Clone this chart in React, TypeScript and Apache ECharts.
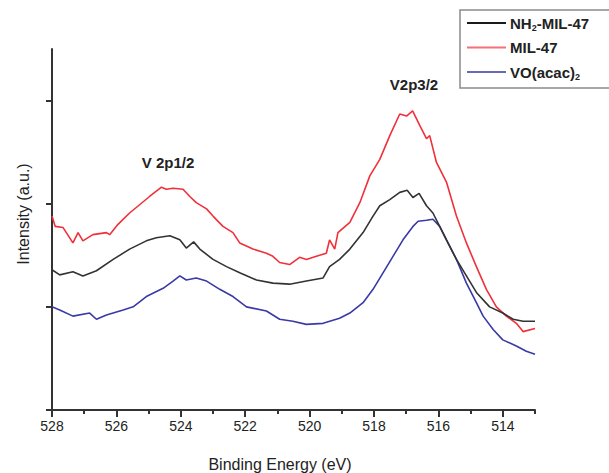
import React, { useEffect, useRef } from "react";
import * as echarts from "echarts";

const majorTicks = [528, 526, 524, 522, 520, 518, 516, 514];
const minorTicks = [527, 525, 523, 521, 519, 517, 515, 513];
const yTicks = [0, 1, 2, 3];

const seriesNames = ["NH2-MIL-47", "MIL-47", "VO(acac)2"];

const blackX = [528, 527.76, 527.35, 527.04, 526.62, 526.1, 525.59, 525.07, 524.76, 524.34, 524.03, 523.83, 523.6, 523.41, 523.0, 522.58, 522.17, 521.65, 521.14, 520.62, 520.1, 519.58, 519.38, 519.07, 518.75, 518.34, 518.03, 517.82, 517.51, 517.2, 516.97, 516.79, 516.6, 516.37, 516.17, 515.96, 515.75, 515.44, 515.13, 514.82, 514.41, 514.0, 513.68, 513.37, 513.0];
const blackY = [1.36, 1.31, 1.34, 1.30, 1.35, 1.46, 1.56, 1.64, 1.67, 1.69, 1.65, 1.57, 1.63, 1.56, 1.46, 1.39, 1.33, 1.26, 1.23, 1.22, 1.25, 1.28, 1.39, 1.46, 1.56, 1.72, 1.88, 1.98, 2.04, 2.11, 2.13, 2.06, 2.10, 1.98, 1.91, 1.78, 1.65, 1.46, 1.30, 1.14, 1.00, 0.94, 0.88, 0.86, 0.86];

const redX = [528, 527.9, 527.66, 527.35, 527.19, 527.04, 526.73, 526.31, 526.21, 525.95, 525.59, 525.28, 524.97, 524.81, 524.6, 524.45, 524.24, 523.93, 523.72, 523.52, 523.2, 523.0, 522.69, 522.38, 522.17, 521.76, 521.34, 521.14, 520.93, 520.62, 520.31, 520.1, 519.79, 519.48, 519.38, 519.22, 519.12, 518.75, 518.44, 518.13, 517.82, 517.51, 517.2, 516.99, 516.8, 516.58, 516.37, 516.27, 516.06, 515.75, 515.44, 515.13, 514.82, 514.51, 514.2, 513.89, 513.58, 513.37, 513.0];
const redY = [1.88, 1.78, 1.77, 1.62, 1.72, 1.64, 1.70, 1.72, 1.70, 1.80, 1.91, 1.99, 2.07, 2.11, 2.16, 2.14, 2.15, 2.14, 2.07, 2.01, 1.95, 1.88, 1.78, 1.72, 1.62, 1.56, 1.52, 1.49, 1.43, 1.41, 1.48, 1.46, 1.49, 1.52, 1.65, 1.56, 1.72, 1.82, 2.01, 2.27, 2.43, 2.66, 2.87, 2.85, 2.90, 2.76, 2.63, 2.66, 2.40, 2.21, 1.88, 1.62, 1.39, 1.17, 1.00, 0.91, 0.84, 0.76, 0.79];

const blueX = [528, 527.76, 527.35, 526.83, 526.62, 526.31, 525.79, 525.48, 525.07, 524.55, 524.24, 524.03, 523.83, 523.52, 523.2, 522.79, 522.38, 521.96, 521.34, 520.93, 520.52, 520.1, 519.58, 519.07, 518.75, 518.34, 518.03, 517.72, 517.41, 517.1, 516.79, 516.63, 516.37, 516.17, 515.96, 515.75, 515.44, 515.13, 514.82, 514.61, 514.3, 514.0, 513.58, 513.27, 513.0];
const blueY = [1.00, 0.97, 0.91, 0.94, 0.88, 0.92, 0.97, 1.00, 1.10, 1.18, 1.25, 1.30, 1.26, 1.28, 1.25, 1.17, 1.10, 1.00, 0.96, 0.88, 0.86, 0.83, 0.84, 0.89, 0.94, 1.04, 1.17, 1.33, 1.49, 1.65, 1.78, 1.83, 1.84, 1.85, 1.78, 1.65, 1.46, 1.23, 1.04, 0.91, 0.78, 0.68, 0.62, 0.57, 0.54];

const lineColors = ["#333333", "#f0303a", "#3a3aa6"];
const legendColors = ["#1a1a1a", "#f4707a", "#6a6ab4"];

const pairs = (xs: number[], ys: number[]) => xs.map((x, i) => [x, ys[i]]);

const FONT = "Liberation Sans, Arial, sans-serif";

export default function App() {
  const ref = useRef<HTMLDivElement>(null);
  useEffect(() => {
    const chart = echarts.init(ref.current!, null, { renderer: "svg" });
    const xBase = {
      type: "value" as const,
      min: 513,
      max: 528,
      inverse: true,
      splitLine: { show: false },
    };
    const subRich = { s: { fontSize: 9, fontWeight: "bold", fontFamily: FONT, fill: "#222", padding: [10, 0, 0, 0] } };
    chart.setOption({
      animation: false,
      backgroundColor: "#ffffff",
      grid: { left: 52, right: 74, top: 49, bottom: 63 },
      xAxis: [
        {
          ...xBase,
          axisLine: { show: true, lineStyle: { color: "#333", width: 2 } },
          axisTick: { show: true, customValues: majorTicks, length: 7, lineStyle: { color: "#333", width: 2 } },
          axisLabel: {
            show: true,
            customValues: majorTicks,
            color: "#222",
            fontFamily: FONT,
            fontSize: 14,
            margin: 9,
          },
        },
        {
          ...xBase,
          gridIndex: 0,
          position: "bottom",
          axisLine: { show: false },
          axisTick: { show: true, customValues: minorTicks, length: 4, lineStyle: { color: "#333", width: 2 } },
          axisLabel: { show: false },
        },
      ],
      yAxis: {
        type: "value",
        min: 0,
        max: 3.5,
        splitLine: { show: false },
        axisLine: { show: true, lineStyle: { color: "#333", width: 2 } },
        axisTick: { show: true, customValues: yTicks, length: 6, lineStyle: { color: "#333", width: 2 } },
        axisLabel: { show: false },
      },
      series: [
        { name: seriesNames[0], type: "line", data: pairs(blackX, blackY), showSymbol: false, lineStyle: { color: lineColors[0], width: 1.6 }, z: 3 },
        { name: seriesNames[1], type: "line", data: pairs(redX, redY), showSymbol: false, lineStyle: { color: lineColors[1], width: 1.6 }, z: 2 },
        { name: seriesNames[2], type: "line", data: pairs(blueX, blueY), showSymbol: false, lineStyle: { color: lineColors[2], width: 1.6 }, z: 1 },
      ],
      graphic: [
        {
          type: "text",
          x: 280,
          y: 464,
          style: { text: "Binding Energy (eV)", fill: "#222", font: `16px ${FONT}`, align: "center", verticalAlign: "middle" },
        },
        {
          type: "text",
          x: 23,
          y: 214,
          rotation: Math.PI / 2,
          style: { text: "Intensity (a.u.)", fill: "#222", font: `16px ${FONT}`, align: "center", verticalAlign: "middle" },
        },
        {
          type: "text",
          x: 168,
          y: 162,
          style: { text: "V 2p1/2", fill: "#222", font: `bold 15px ${FONT}`, align: "center", verticalAlign: "middle" },
        },
        {
          type: "text",
          x: 414,
          y: 84,
          style: { text: "V2p3/2", fill: "#222", font: `bold 15px ${FONT}`, align: "center", verticalAlign: "middle" },
        },
        {
          type: "rect",
          shape: { x: 460, y: 10, width: 170, height: 78 },
          style: { fill: "#fff", stroke: "#8a8a8a", lineWidth: 1.5 },
          z: 10,
        },
        ...seriesNames.map((_, i) => ({
          type: "line",
          shape: { x1: 467, y1: 23 + i * 24.5, x2: 506, y2: 23 + i * 24.5 },
          style: { stroke: legendColors[i], lineWidth: 2 },
          z: 11,
        })),
        {
          type: "text",
          x: 510,
          y: 23,
          z: 11,
          style: { text: "NH{s|2}-MIL-47", fill: "#222", font: `bold 15px ${FONT}`, verticalAlign: "middle", rich: subRich },
        },
        {
          type: "text",
          x: 510,
          y: 47.5,
          z: 11,
          style: { text: "MIL-47", fill: "#222", font: `bold 15px ${FONT}`, verticalAlign: "middle" },
        },
        {
          type: "text",
          x: 510,
          y: 72,
          z: 11,
          style: { text: "VO(acac){s|2}", fill: "#222", font: `bold 15px ${FONT}`, verticalAlign: "middle", rich: subRich },
        },
      ],
    });
    return () => chart.dispose();
  }, []);
  return <div ref={ref} style={{ width: 609, height: 473, position: "absolute", left: 0, top: 0 }} />;
}
